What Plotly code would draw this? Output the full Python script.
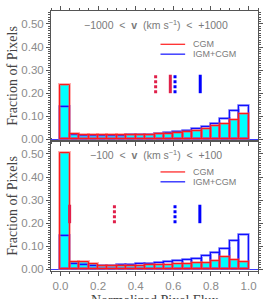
import plotly.graph_objects as go

# ---------------- data ----------------
flux_bins = [0.025, 0.075, 0.125, 0.175, 0.225, 0.275, 0.325, 0.375, 0.425, 0.475,
             0.525, 0.575, 0.625, 0.675, 0.725, 0.775, 0.825, 0.875, 0.925, 0.975]
bin_width = 0.05

# top panel: -1000 < v < +1000
top_cgm = [0.236, 0.024, 0.020, 0.020, 0.019, 0.019, 0.018, 0.019, 0.019, 0.020,
           0.022, 0.024, 0.028, 0.034, 0.038, 0.047, 0.056, 0.066, 0.084, 0.109]
top_igm_cgm = [0.141, 0.019, 0.016, 0.015, 0.015, 0.015, 0.016, 0.017, 0.017, 0.020,
               0.025, 0.027, 0.031, 0.037, 0.044, 0.055, 0.065, 0.088, 0.121, 0.144]

# bottom panel: -100 < v < +100
bot_cgm = [0.503, 0.034, 0.030, 0.025, 0.016, 0.014, 0.014, 0.016, 0.016, 0.017,
           0.018, 0.021, 0.025, 0.023, 0.028, 0.027, 0.037, 0.054, 0.041, 0.030]
bot_igm_cgm = [0.143, 0.023, 0.017, 0.016, 0.016, 0.014, 0.017, 0.021, 0.023, 0.025,
               0.027, 0.031, 0.035, 0.040, 0.047, 0.058, 0.071, 0.090, 0.123, 0.150]

# marker lines (x positions) and their vertical extent
top_cgm_dotted, top_cgm_solid = 0.506, 0.584
top_igm_dotted, top_igm_solid = 0.609, 0.743
bot_cgm_solid, bot_cgm_dotted = 0.049, 0.287
bot_igm_dotted, bot_igm_solid = 0.609, 0.741
marker_y = [0.20, 0.28]

panel_labels = ["\u22121000 \u00a0<\u00a0 <b>v</b> \u00a0(km s<sup>\u22121</sup>) \u00a0<\u00a0 +1000",
                "\u2212100 \u00a0<\u00a0 <b>v</b> \u00a0(km s<sup>\u22121</sup>) \u00a0<\u00a0 +100"]
legend_names = ["CGM", "IGM+CGM"]

RED = "#ff1a1a"
RED_HALO = "rgba(255,80,80,0.45)"
BLUE = "#1010ff"
BLUE_HALO = "rgba(90,90,255,0.45)"
CYAN = "#00ffff"
MRED = "#e0204a"
MBLUE = "#0000ff"

fig = go.Figure()


def add_panel(cgm, igm, xa, ya, markers):
    # cyan filled CGM histogram
    fig.add_trace(go.Bar(x=flux_bins, y=cgm, width=bin_width, xaxis=xa, yaxis=ya,
                         marker=dict(color=CYAN, line=dict(width=0)), showlegend=False))
    # blue outline (halo + line)
    fig.add_trace(go.Bar(x=flux_bins, y=igm, width=bin_width, xaxis=xa, yaxis=ya,
                         marker=dict(color="rgba(0,0,0,0)", line=dict(color=BLUE_HALO, width=3)),
                         showlegend=False))
    fig.add_trace(go.Bar(x=flux_bins, y=igm, width=bin_width, xaxis=xa, yaxis=ya,
                         marker=dict(color="rgba(0,0,0,0)", line=dict(color=BLUE, width=1.2)),
                         showlegend=False))
    # red outline (halo + line)
    fig.add_trace(go.Bar(x=flux_bins, y=cgm, width=bin_width, xaxis=xa, yaxis=ya,
                         marker=dict(color="rgba(0,0,0,0)", line=dict(color=RED_HALO, width=3)),
                         showlegend=False))
    fig.add_trace(go.Bar(x=flux_bins, y=cgm, width=bin_width, xaxis=xa, yaxis=ya,
                         marker=dict(color="rgba(0,0,0,0)", line=dict(color=RED, width=1)),
                         showlegend=False))
    for xv, col, dash in markers:
        fig.add_trace(go.Scatter(x=[xv, xv], y=marker_y, mode="lines", xaxis=xa, yaxis=ya,
                                 line=dict(color=col, width=3, dash=dash), showlegend=False,
                                 hoverinfo="skip"))


add_panel(top_cgm, top_igm_cgm, "x2", "y2",
          [(top_cgm_dotted, MRED, "3px,2px"), (top_cgm_solid, MRED, "solid"),
           (top_igm_dotted, MBLUE, "3px,2px"), (top_igm_solid, MBLUE, "solid")])
add_panel(bot_cgm, bot_igm_cgm, "x", "y",
          [(bot_cgm_solid, MRED, "solid"), (bot_cgm_dotted, MRED, "3px,2px"),
           (bot_igm_dotted, MBLUE, "3px,2px"), (bot_igm_solid, MBLUE, "solid")])

AX = "#555555"
TICKFONT = dict(family="Liberation Sans, Arial, sans-serif", size=11.5, color="#8a8a8a")

xcommon = dict(range=[-0.05, 1.05], dtick=0.2, tick0=0, tickformat=".1f",
               showline=True, linecolor=AX, linewidth=1, mirror="ticks",
               ticks="outside", ticklen=4, tickcolor=AX, tickwidth=1,
               minor=dict(dtick=0.05, ticks="outside", ticklen=2, tickcolor=AX),
               showgrid=False, zeroline=False, tickfont=TICKFONT)
ycommon = dict(range=[-0.007, 0.556], dtick=0.1, tick0=0, tickformat=".2f",
               showline=True, linecolor=AX, linewidth=1, mirror="ticks",
               ticks="outside", ticklen=4, tickcolor=AX, tickwidth=1,
               minor=dict(dtick=0.01, ticks="outside", ticklen=2, tickcolor=AX),
               showgrid=False, zeroline=True, zerolinecolor="#3a3aff", zerolinewidth=1,
               tickfont=TICKFONT)

fig.update_layout(
    width=269, height=299,
    margin=dict(l=51, r=8, t=6, b=28),
    paper_bgcolor="white", plot_bgcolor="white",
    barmode="overlay", bargap=0,
    showlegend=False,
    xaxis=dict(**xcommon, anchor="y", domain=[0, 1]),
    xaxis2=dict(**xcommon, anchor="y2", domain=[0, 1], showticklabels=False, matches="x"),
    yaxis=dict(**ycommon, anchor="x", domain=[0, 0.5]),
    yaxis2=dict(**ycommon, anchor="x2", domain=[0.5, 1]),
)

ann_font = dict(family="Liberation Sans, Arial, sans-serif", size=10.5, color="#7a7a7a")
leg_font = dict(family="Liberation Sans, Arial, sans-serif", size=9, color="#7a7a7a")
title_font = dict(family="Liberation Serif, Times New Roman, serif", size=14, color="#444444")

# panel labels
fig.add_annotation(text=panel_labels[0], xref="paper", yref="paper", x=0.151, y=0.947,
                   xanchor="left", yanchor="middle", showarrow=False, font=ann_font)
fig.add_annotation(text=panel_labels[1], xref="paper", yref="paper", x=0.178, y=0.449,
                   xanchor="left", yanchor="middle", showarrow=False, font=ann_font)

# legends (one per panel)
for ycgm, yigm in [(0.872, 0.834), (0.381, 0.343)]:
    for yy, col, name in [(ycgm, RED, legend_names[0]), (yigm, BLUE, legend_names[1])]:
        fig.add_shape(type="line", xref="paper", yref="paper", x0=0.529, x1=0.648, y0=yy, y1=yy,
                      line=dict(color=col, width=1.2))
        fig.add_annotation(text=name, xref="paper", yref="paper", x=0.676, y=yy,
                           xanchor="left", yanchor="middle", showarrow=False, font=leg_font)

# axis titles
for yc in [0.75, 0.25]:
    fig.add_annotation(text="Fraction of Pixels", xref="paper", yref="paper", x=-0.19, y=yc,
                       xanchor="center", yanchor="middle", textangle=-90, showarrow=False,
                       font=title_font)
fig.add_annotation(text="Normalized Pixel Flux", xref="paper", yref="paper", x=0.5, y=-0.076,
                   xanchor="center", yanchor="top", showarrow=False, font=title_font)

fig.write_html("out.html", config={"displayModeBar": False},
               post_script="document.body.style.margin='0';document.body.style.overflow='hidden';")
